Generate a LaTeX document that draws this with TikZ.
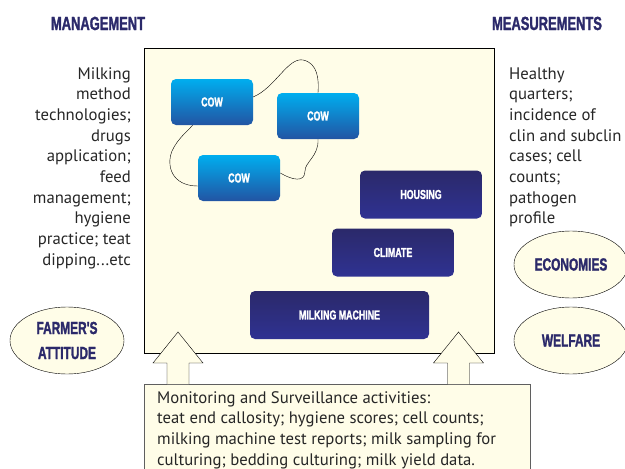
\documentclass[tikz,border=0pt]{standalone}
\usepackage{fontspec}
\usetikzlibrary{shapes.geometric}
\setmainfont{PT Sans}
\newfontfamily\headfont[FakeStretch=0.68,FakeBold=1.5]{Liberation Sans Bold}
\definecolor{cream}{RGB}{255,253,232}
\definecolor{navy}{RGB}{43,41,106}
\definecolor{navylo}{RGB}{47,50,146}
\definecolor{cowhi}{RGB}{0,174,239}
\definecolor{cowlo}{RGB}{34,84,163}
\definecolor{edge}{RGB}{95,95,95}
\pgfdeclarelayer{back}
\pgfdeclarelayer{mid}
\pgfsetlayers{back,mid,main}
\begin{document}
\begin{tikzpicture}[x=1pt,y=-1pt,
    heading/.style={font=\headfont\fontsize{19}{20}\selectfont, text=navy},
    body/.style={font=\fontsize{16.7}{20.7}\selectfont, inner sep=0pt, text=black!85},
    cowbox/.style={rounded corners=5pt, top color=cowhi, bottom color=cowlo,
        minimum width=82pt, minimum height=46pt, text=white,
        font=\headfont\fontsize{13}{14}\selectfont},
    darkbox/.style={rounded corners=5pt, top color=navy, bottom color=navylo,
        minimum height=48pt, text=white, font=\headfont\fontsize{13}{14}\selectfont},
    oval/.style={ellipse, draw, fill=cream, minimum width=114pt, minimum height=67pt,
        align=center, text=navy, font=\headfont\fontsize{17.5}{25}\selectfont}]
    \useasboundingbox (0,0) rectangle (625,469);

    % titles
    \node[heading, anchor=base] (management) at (98,30) {MANAGEMENT};
    \node[heading, anchor=base] (measurements) at (547,30) {MEASUREMENTS};

    % the farm
    \begin{pgfonlayer}{back}
        \node[draw, fill=cream, minimum width=350pt, minimum height=305pt] (farm) at (319,200.5) {};
    \end{pgfonlayer}

    \node[cowbox] (cowa) at (212,102) {COW};
    \node[cowbox] (cowb) at (318,116) {COW};
    \node[cowbox] (cowc) at (239,178) {COW};

    \node[darkbox, minimum width=122pt] (housing) at (421,194.5) {HOUSING};
    \node[darkbox, minimum width=122pt] (climate) at (393,252.5) {CLIMATE};
    \node[darkbox, minimum width=179pt] (machine) at (339.5,315) {MILKING MACHINE};

    % loop round the cows
    \begin{pgfonlayer}{mid}
        \draw (cowa.7) .. controls (275,88) and (288,57) .. (303,60)
            .. controls (318,63) and (319,80) .. (cowb.north);
        \draw (cowb.south) .. controls (319,156) and (305,162) .. (305,171)
            .. controls (305,183) and (292,180) .. (cowc.7);
        \draw (cowc.191) .. controls (172,186) and (166,166) .. (172,151)
            .. controls (178,138) and (188,131) .. (cowa.230);
    \end{pgfonlayer}

    % side texts (base = last line)
    \node[body, anchor=base east, align=right] (methods) at (131,265.3)
        {Milking\\method\\technologies;\\drugs\\application;\\feed\\management;\\hygiene\\practice; teat\\dipping...etc};
    \node[body, anchor=base west, align=left] (results) at (509,223.9)
        {Healthy\\quarters;\\incidence of\\clin and subclin\\cases; cell\\counts;\\pathogen\\profile};

    \node[oval] (attitude) at (67,340.5) {FARMER'S\\ATTITUDE};
    \node[oval] (economies) at (571,264.5) {ECONOMIES};
    \node[oval] (welfare) at (571,340.5) {WELFARE};

    % monitoring
    \fill[cream] (144,384) rectangle (530,475);
    \draw[edge] (144,475) -- (144,384) -- (530,384) -- (530,475);
    \node[body, anchor=base west, align=left] (monitor) at (157,465.1)
        {Monitoring and Surveillance activities:\\teat end callosity; hygiene scores; cell counts;\\milking machine test reports; milk sampling for\\culturing; bedding culturing; milk yield data.};

    \foreach \x in {178,458.5}
    {
        \draw[fill=cream] (\x-11,384) -- (\x-11,363) -- (\x-25,363) -- (\x,332)
            -- (\x+25,363) -- (\x+11,363) -- (\x+11,384);
    }
\end{tikzpicture}
\end{document}
